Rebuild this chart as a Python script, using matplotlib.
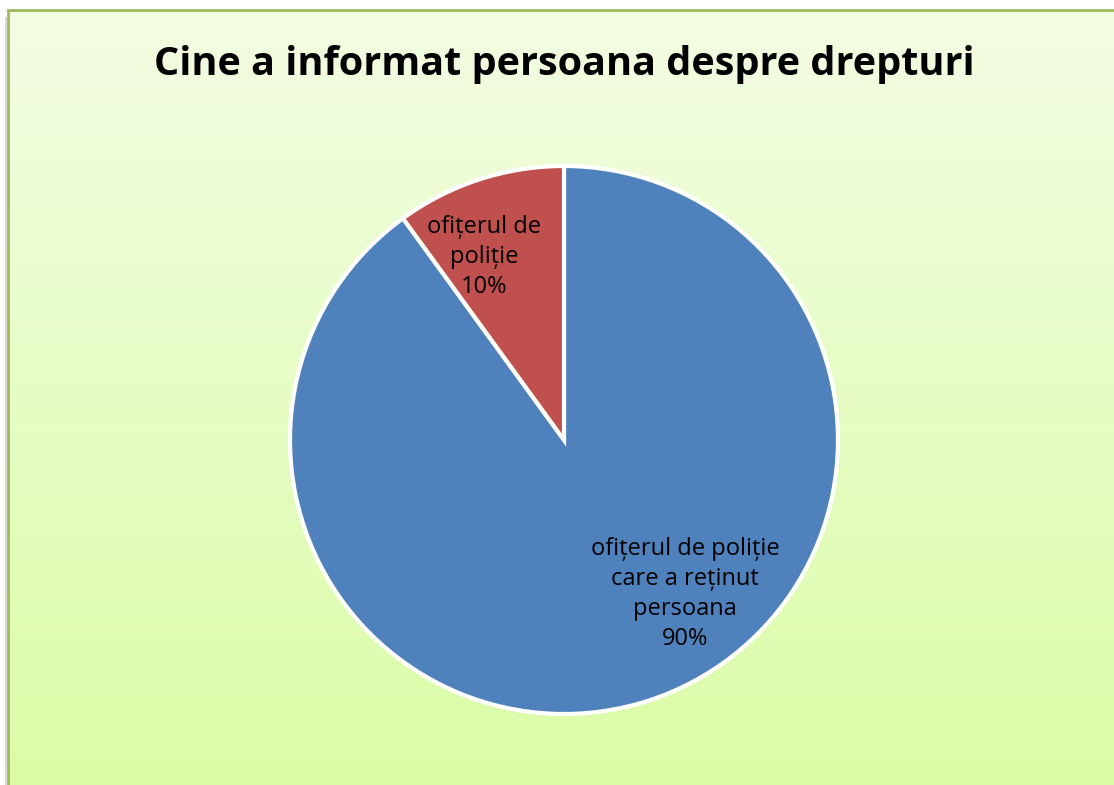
import matplotlib.pyplot as plt
import numpy as np
from matplotlib.patches import Rectangle

titlu = "Cine a informat persoana despre drepturi"
categorii = ["ofițerul de poliție\ncare a reținut\npersoana", "ofițerul de\npoliție"]
procente = [90, 10]
culori = ["#4F81BD", "#C0504D"]
# label centres (px, from top-left) as in the reference
poz_etichete = [(685, 594), (484, 257)]

W, H = 1114, 785
fig = plt.figure(figsize=(W / 100, H / 100), dpi=100)
ax = fig.add_axes([0, 0, 1, 1])
ax.set_xlim(0, W)
ax.set_ylim(0, H)
ax.set_aspect("equal")
ax.axis("off")

# gradient background inside the chart frame
grad = np.linspace(0, 1, 256)[:, None]
top = np.array([243, 253, 227]) / 255
bot = np.array([218, 252, 166]) / 255
img = top + (bot - top) * grad[..., None]
img = np.repeat(img, 2, axis=1)
ax.imshow(img, extent=(8, W + 5, -5, H - 10), aspect="auto", zorder=0)
ax.add_patch(Rectangle((8, -5), W, H - 5, fill=False, edgecolor="#9BBB59",
                       linewidth=2, zorder=1))
# faint shadow on the left side
ax.add_patch(Rectangle((5, -5), 2, H - 12, color="#d8d8d8", zorder=0.5, linewidth=0))

cx, cy, r = 564, H - 440, 274
ax.pie(procente, colors=culori, startangle=90, counterclock=False,
       center=(cx, cy), radius=r, frame=True,
       wedgeprops=dict(edgecolor="white", linewidth=3))
ax.set_xlim(0, W)
ax.set_ylim(0, H)
ax.axis("off")

for cat, p, (x, y) in zip(categorii, procente, poz_etichete):
    ax.text(x, H - y, f"{cat}\n{p}%", ha="center", va="center",
            fontsize=17, family="Open Sans", linespacing=1.35, color="black")

ax.text(564, H - 64, titlu, ha="center", va="center", fontsize=28.5,
        fontweight="bold", family="Open Sans")

fig.savefig("out.png", dpi=100)
